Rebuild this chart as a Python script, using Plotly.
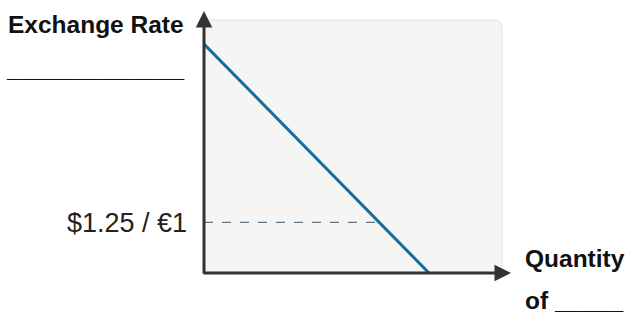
import plotly.graph_objects as go

# Data
demand_q = [0, 7.55]
demand_rate = [9.05, 0]
eq_q = 5.9
eq_rate = 2.0
tick_vals = [eq_rate]
tick_text = ["$1.25 / €1"]
y_title = "Exchange Rate"
y_blank = "_____________"
x_title = "Quantity"
x_blank = "of _____"

W, H = 626, 314
L, T = 204, 20
RIGHT, BOTTOM = 502, 273
R, B = W - RIGHT, H - BOTTOM
XMAX, YMAX = 10.0, 10.0
pw, ph = RIGHT - L, BOTTOM - T

def px_x(px):
    return (px - L) / pw

def px_y(py):
    return (BOTTOM - py) / ph

fig = go.Figure()

# rounded plot background
rx, ry = 8 / pw, 8 / ph
path = f"M 0,0 L 0,1 L {1-rx},1 Q 1,1 1,{1-ry} L 1,0 Z"
fig.add_shape(type="path", path=path, xref="paper", yref="paper",
              fillcolor="#f5f5f4", line=dict(color="#e7e4de", width=1), layer="below")

fig.add_trace(go.Scatter(x=[0, eq_q], y=[eq_rate, eq_rate], mode="lines",
                         line=dict(color="#5d7587", width=1.2, dash="dash"),
                         hoverinfo="skip", showlegend=False))
fig.add_trace(go.Scatter(x=demand_q, y=demand_rate, mode="lines",
                         line=dict(color="#156c9e", width=3),
                         hoverinfo="skip", showlegend=False))

# axis arrows (paper refs, pixel tails)
axis_col = "#333333"
fig.add_annotation(x=0, y=px_y(11), xref="paper", yref="paper",
                   ax=0, ay=(275 - 11), showarrow=True, arrowhead=2, arrowsize=1.1,
                   arrowwidth=3, arrowcolor=axis_col, text="")
fig.add_annotation(x=px_x(511), y=0, xref="paper", yref="paper",
                   ax=-(511 - 202), ay=0, showarrow=True, arrowhead=2, arrowsize=1.1,
                   arrowwidth=3, arrowcolor=axis_col, text="")

bold = dict(family="Liberation Sans", size=24.5, color="#111111")
fig.add_annotation(text=f"<b>{y_title}</b>", xref="paper", yref="paper",
                   x=px_x(186), y=px_y(24), xanchor="right",
                   yanchor="middle", showarrow=False, font=bold)
fig.add_annotation(text=f"<b>{y_blank}</b>", xref="paper", yref="paper",
                   x=px_x(187), y=px_y(68), xanchor="right",
                   yanchor="middle", showarrow=False, font=bold)
fig.add_annotation(text=f"<b>{x_title}</b>", xref="paper", yref="paper",
                   x=px_x(523), y=px_y(258), xanchor="left",
                   yanchor="middle", showarrow=False, font=bold)
fig.add_annotation(text=f"<b>{x_blank}</b>", xref="paper", yref="paper",
                   x=px_x(523), y=px_y(300), xanchor="left",
                   yanchor="middle", showarrow=False, font=bold)

fig.update_layout(
    width=W, height=H,
    margin=dict(l=L, r=R, t=T, b=B, pad=0),
    paper_bgcolor="white", plot_bgcolor="rgba(0,0,0,0)",
    xaxis=dict(range=[0, XMAX], showgrid=False, zeroline=False, showticklabels=False,
               showline=False, fixedrange=True),
    yaxis=dict(range=[0, YMAX], showgrid=False, zeroline=False, showline=False,
               tickvals=tick_vals, ticktext=tick_text, ticks="", ticklabelstandoff=16,
               tickfont=dict(family="Liberation Sans", size=27, color="#222222"),
               fixedrange=True),
)

fig.write_html("out.html", config={"displayModeBar": False},
               post_script="document.body.style.margin='0';document.body.style.overflow='hidden';")
